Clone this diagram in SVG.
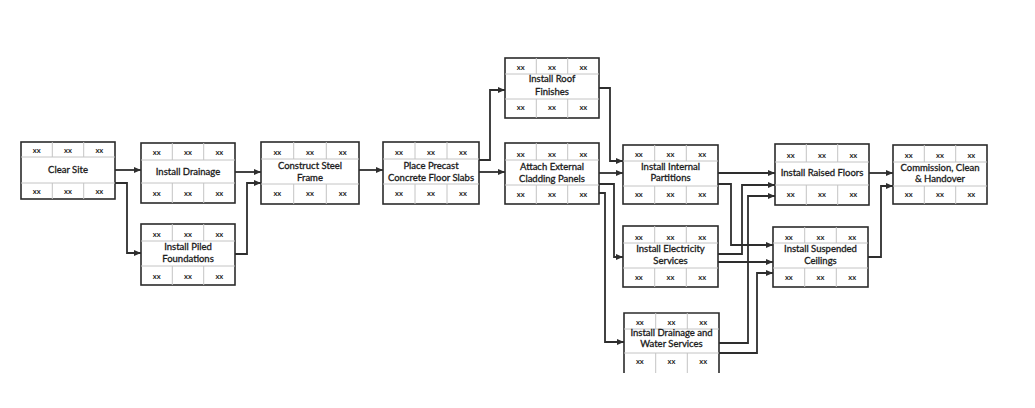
<svg xmlns="http://www.w3.org/2000/svg" width="1035" height="408" viewBox="0 0 1035 408">
<style>
.box{fill:#fff;stroke:#2b2b2b;stroke-width:1.6}
.grid{stroke:#c4c4c4;stroke-width:1;fill:none}
.xx{font-family:Lato,"Liberation Sans",sans-serif;font-size:7.5px;font-weight:bold;fill:#222;text-anchor:middle}
.lbl{font-family:Lato,"Liberation Sans",sans-serif;font-size:9.5px;fill:#1a1a1a;stroke:#1a1a1a;stroke-width:0.3;text-anchor:middle}
.conn path{fill:none;stroke:#2e2e2e;stroke-width:1.8;marker-end:url(#ah)}
</style>
<defs>
<marker id="ah" markerUnits="userSpaceOnUse" markerWidth="7" markerHeight="6" refX="7" refY="3" orient="auto">
<path d="M0,0 L7,3 L0,6 z" fill="#2e2e2e"/>
</marker>
</defs>
<rect width="1035" height="408" fill="#fff"/>

<g id="n1">
<rect class="box" x="21" y="142" width="94" height="57"/>
<path class="grid" d="M21,157H115M21,183H115M52.3,142V157M83.7,142V157M52.3,183V199M83.7,183V199"/>
<text class="xx" x="36.7" y="153">xx</text><text class="xx" x="68" y="153">xx</text><text class="xx" x="99.3" y="153">xx</text>
<text class="lbl" x="68" y="173">Clear Site</text>
<text class="xx" x="36.7" y="194">xx</text><text class="xx" x="68" y="194">xx</text><text class="xx" x="99.3" y="194">xx</text>
</g>

<g id="n2">
<rect class="box" x="141" y="143" width="94" height="60"/>
<path class="grid" d="M141,160H235M141,183H235M172.3,143V160M203.7,143V160M172.3,183V203M203.7,183V203"/>
<text class="xx" x="156.7" y="155">xx</text><text class="xx" x="188" y="155">xx</text><text class="xx" x="219.3" y="155">xx</text>
<text class="lbl" x="188" y="175">Install Drainage</text>
<text class="xx" x="156.7" y="196">xx</text><text class="xx" x="188" y="196">xx</text><text class="xx" x="219.3" y="196">xx</text>
</g>

<g id="n3">
<rect class="box" x="141" y="224" width="94" height="61"/>
<path class="grid" d="M141,241H235M141,266H235M172.3,224V241M203.7,224V241M172.3,266V285M203.7,266V285"/>
<text class="xx" x="156.7" y="237">xx</text><text class="xx" x="188" y="237">xx</text><text class="xx" x="219.3" y="237">xx</text>
<text class="lbl" x="188" y="250">Install Piled</text>
<text class="lbl" x="188" y="262">Foundations</text>
<text class="xx" x="156.7" y="279">xx</text><text class="xx" x="188" y="279">xx</text><text class="xx" x="219.3" y="279">xx</text>
</g>

<g id="n4">
<rect class="box" x="261" y="142" width="98" height="62"/>
<path class="grid" d="M261,159H359M261,184H359M293.7,142V159M326.3,142V159M293.7,184V204M326.3,184V204"/>
<text class="xx" x="277.3" y="155">xx</text><text class="xx" x="310" y="155">xx</text><text class="xx" x="342.7" y="155">xx</text>
<text class="lbl" x="310" y="169">Construct Steel</text>
<text class="lbl" x="310" y="181">Frame</text>
<text class="xx" x="277.3" y="196">xx</text><text class="xx" x="310" y="196">xx</text><text class="xx" x="342.7" y="196">xx</text>
</g>

<g id="n5">
<rect class="box" x="383" y="142" width="96" height="62"/>
<path class="grid" d="M383,159H479M383,184H479M415,142V159M447,142V159M415,184V204M447,184V204"/>
<text class="xx" x="399" y="155">xx</text><text class="xx" x="431" y="155">xx</text><text class="xx" x="463" y="155">xx</text>
<text class="lbl" x="431" y="169">Place Precast</text>
<text class="lbl" x="431" y="181">Concrete Floor Slabs</text>
<text class="xx" x="399" y="196">xx</text><text class="xx" x="431" y="196">xx</text><text class="xx" x="463" y="196">xx</text>
</g>

<g id="n6">
<rect class="box" x="505" y="58" width="94" height="60"/>
<path class="grid" d="M505,74H599M505,99H599M536.3,58V74M567.7,58V74M536.3,99V118M567.7,99V118"/>
<text class="xx" x="520.7" y="70">xx</text><text class="xx" x="552" y="70">xx</text><text class="xx" x="583.3" y="70">xx</text>
<text class="lbl" x="552" y="82">Install Roof</text>
<text class="lbl" x="552" y="95">Finishes</text>
<text class="xx" x="520.7" y="110">xx</text><text class="xx" x="552" y="110">xx</text><text class="xx" x="583.3" y="110">xx</text>
</g>

<g id="n7">
<rect class="box" x="505" y="143" width="94" height="61"/>
<path class="grid" d="M505,160H599M505,185H599M536.3,143V160M567.7,143V160M536.3,185V204M567.7,185V204"/>
<text class="xx" x="520.7" y="157">xx</text><text class="xx" x="552" y="157">xx</text><text class="xx" x="583.3" y="157">xx</text>
<text class="lbl" x="552" y="170">Attach External</text>
<text class="lbl" x="552" y="182">Cladding Panels</text>
<text class="xx" x="520.7" y="197">xx</text><text class="xx" x="552" y="197">xx</text><text class="xx" x="583.3" y="197">xx</text>
</g>

<g id="n8">
<rect class="box" x="623" y="145" width="95" height="59"/>
<path class="grid" d="M623,161H718M623,186H718M654.7,145V161M686.3,145V161M654.7,186V204M686.3,186V204"/>
<text class="xx" x="638.8" y="157">xx</text><text class="xx" x="670.5" y="157">xx</text><text class="xx" x="702.2" y="157">xx</text>
<text class="lbl" x="670.5" y="170">Install Internal</text>
<text class="lbl" x="670.5" y="181">Partitions</text>
<text class="xx" x="638.8" y="197">xx</text><text class="xx" x="670.5" y="197">xx</text><text class="xx" x="702.2" y="197">xx</text>
</g>

<g id="n9">
<rect class="box" x="623" y="226" width="95" height="61"/>
<path class="grid" d="M623,243H718M623,268H718M654.7,226V243M686.3,226V243M654.7,268V287M686.3,268V287"/>
<text class="xx" x="638.8" y="240">xx</text><text class="xx" x="670.5" y="240">xx</text><text class="xx" x="702.2" y="240">xx</text>
<text class="lbl" x="670.5" y="252">Install Electricity</text>
<text class="lbl" x="670.5" y="264">Services</text>
<text class="xx" x="638.8" y="280">xx</text><text class="xx" x="670.5" y="280">xx</text><text class="xx" x="702.2" y="280">xx</text>
</g>

<g id="n10">
<rect x="624" y="313" width="95" height="60" fill="#fff"/>
<path class="box" d="M624,373V313H719V373" fill="none"/>
<path class="grid" d="M624,329H719M624,353H719M655.7,313V329M687.3,313V329M655.7,353V373M687.3,353V373"/>
<text class="xx" x="639.8" y="325">xx</text><text class="xx" x="671.5" y="325">xx</text><text class="xx" x="703.2" y="325">xx</text>
<text class="lbl" x="671.5" y="336">Install Drainage and</text>
<text class="lbl" x="671.5" y="347">Water Services</text>
<text class="xx" x="639.8" y="364">xx</text><text class="xx" x="671.5" y="364">xx</text><text class="xx" x="703.2" y="364">xx</text>
</g>

<g id="n11">
<rect class="box" x="775" y="144" width="94" height="61"/>
<path class="grid" d="M775,162H869M775,185H869M806.3,144V162M837.7,144V162M806.3,185V205M837.7,185V205"/>
<text class="xx" x="790.7" y="158">xx</text><text class="xx" x="822" y="158">xx</text><text class="xx" x="853.3" y="158">xx</text>
<text class="lbl" x="822" y="176">Install Raised Floors</text>
<text class="xx" x="790.7" y="197">xx</text><text class="xx" x="822" y="197">xx</text><text class="xx" x="853.3" y="197">xx</text>
</g>

<g id="n12">
<rect class="box" x="773" y="227" width="95" height="60"/>
<path class="grid" d="M773,243H868M773,268H868M804.7,227V243M836.3,227V243M804.7,268V287M836.3,268V287"/>
<text class="xx" x="788.8" y="240">xx</text><text class="xx" x="820.5" y="240">xx</text><text class="xx" x="852.2" y="240">xx</text>
<text class="lbl" x="820.5" y="252">Install Suspended</text>
<text class="lbl" x="820.5" y="264">Ceilings</text>
<text class="xx" x="788.8" y="280">xx</text><text class="xx" x="820.5" y="280">xx</text><text class="xx" x="852.2" y="280">xx</text>
</g>

<g id="n13">
<rect class="box" x="893" y="145" width="94" height="59"/>
<path class="grid" d="M893,162H987M893,186H987M924.3,145V162M955.7,145V162M924.3,186V204M955.7,186V204"/>
<text class="xx" x="908.7" y="158">xx</text><text class="xx" x="940" y="158">xx</text><text class="xx" x="971.3" y="158">xx</text>
<text class="lbl" x="940" y="171">Commission, Clean</text>
<text class="lbl" x="940" y="182">&amp; Handover</text>
<text class="xx" x="908.7" y="197">xx</text><text class="xx" x="940" y="197">xx</text><text class="xx" x="971.3" y="197">xx</text>
</g>

<g id="connectors" class="conn">
<path d="M115,170H141"/>
<path d="M115,183H127V253H141"/>
<path d="M235,172H261"/>
<path d="M235,254H247V183H261"/>
<path d="M359,170H383"/>
<path d="M479,160H490V90H505"/>
<path d="M479,172H505"/>
<path d="M599,88H610V161H623"/>
<path d="M599,173H623"/>
<path d="M599,184H614V257H623"/>
<path d="M599,193H605V342H624"/>
<path d="M718,173H775"/>
<path d="M718,184H731V245H773"/>
<path d="M718,254H742V185H775"/>
<path d="M718,262H773"/>
<path d="M719,343H748V196H775"/>
<path d="M719,353H757V273H773"/>
<path d="M869,173H893"/>
<path d="M868,257H881V186H893"/>
</g>
</svg>
